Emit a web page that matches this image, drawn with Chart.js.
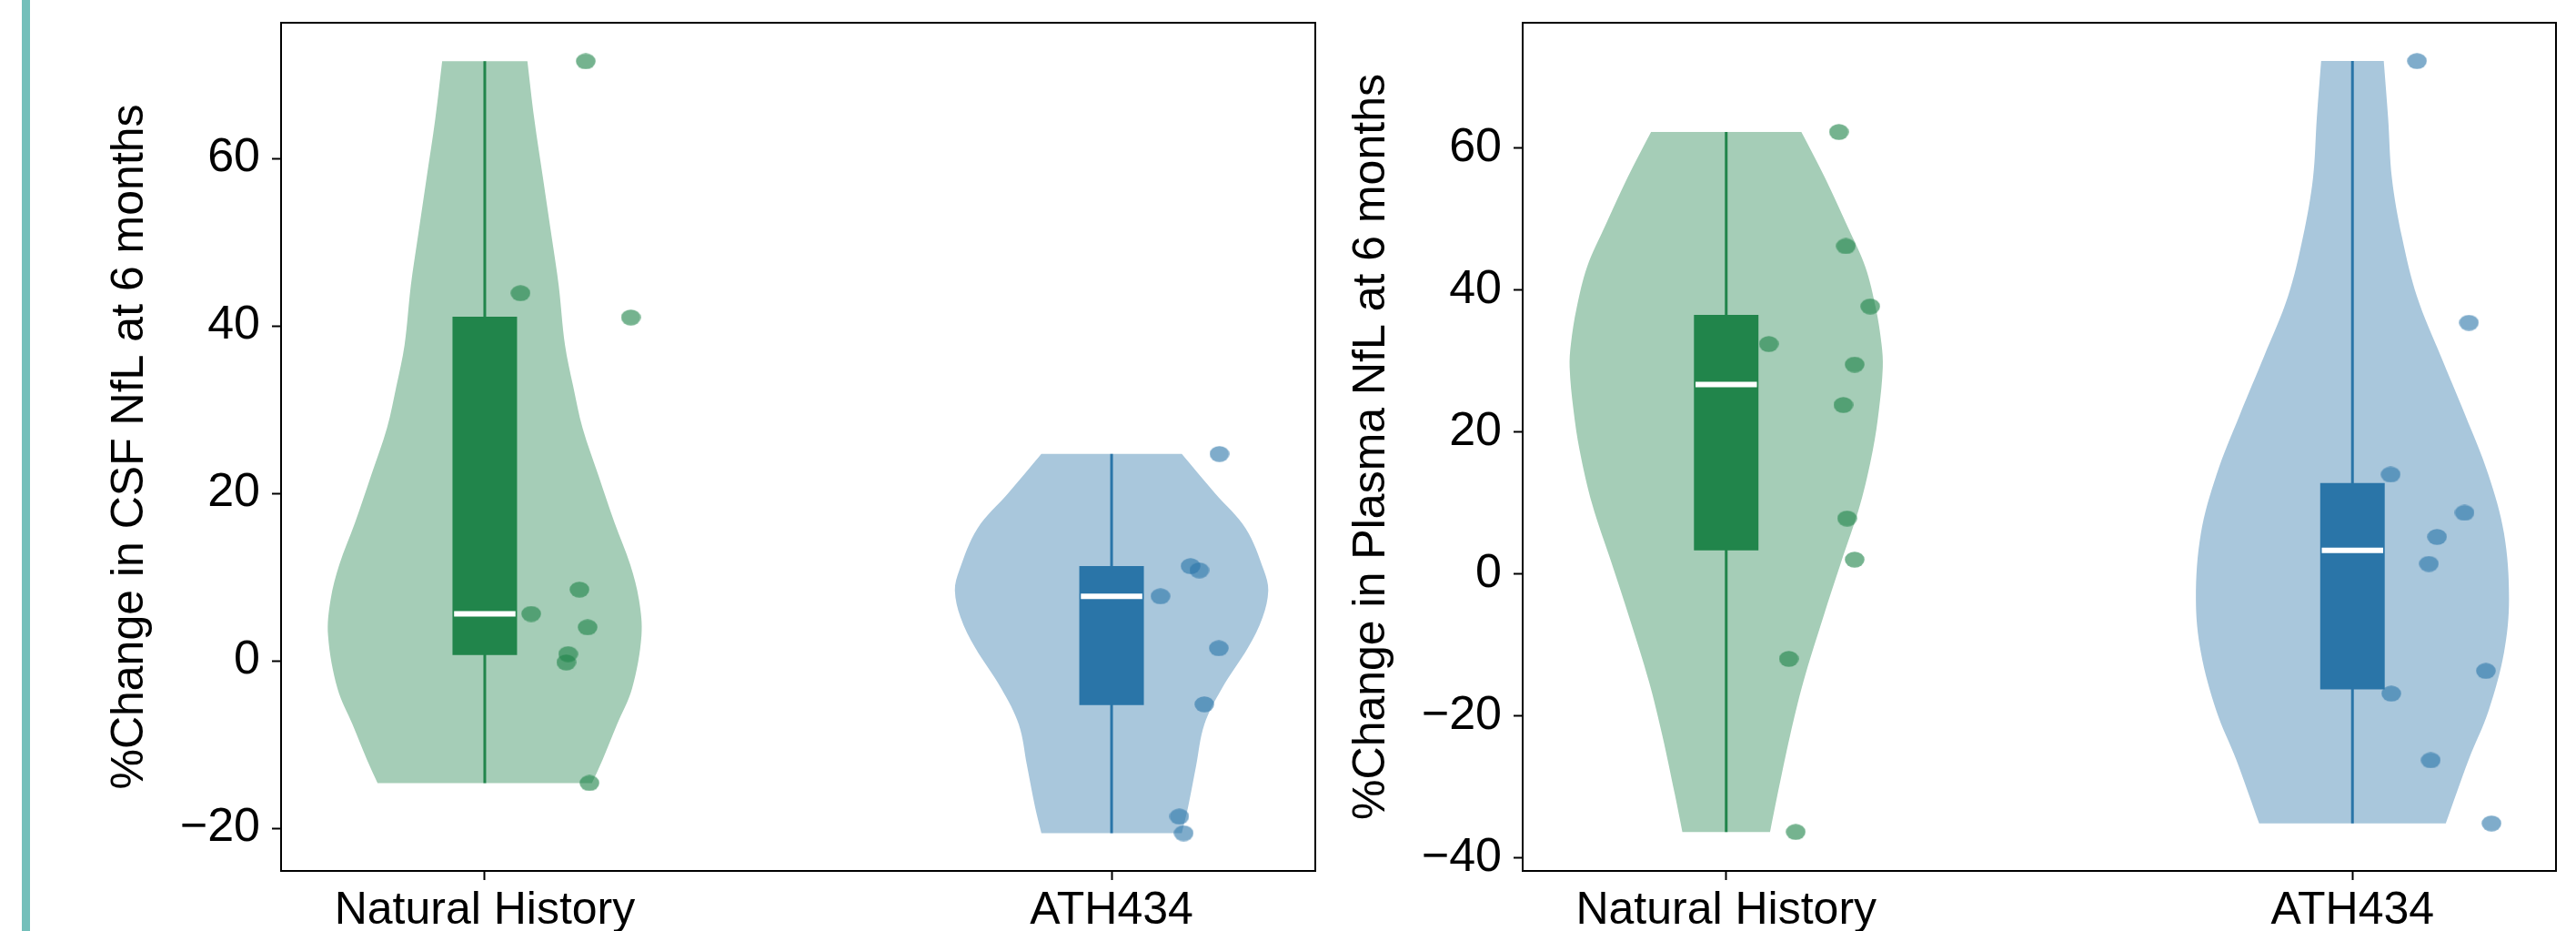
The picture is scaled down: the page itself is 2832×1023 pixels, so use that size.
<!DOCTYPE html>
<html>
<head>
<meta charset="utf-8">
<script src="https://cdn.jsdelivr.net/npm/chart.js@4.4.0/dist/chart.umd.min.js"></script>
<style>
  html, body { margin: 0; padding: 0; background: #fff; }
  body { width: 2832px; height: 1023px; position: relative; overflow: hidden; }
  #stripe { position: absolute; left: 24px; top: 0; width: 9px; height: 1023px; background: #74bfba; }
  .panel { position: absolute; top: 0; height: 1023px; }
  #leftPanel { left: 0; width: 1460px; }
  #rightPanel { left: 1460px; width: 1372px; }
</style>
</head>
<body>
<div id="stripe"></div>
<div class="panel" id="leftPanel"><canvas id="csfChart"></canvas></div>
<div class="panel" id="rightPanel"><canvas id="plasmaChart"></canvas></div>
<script>
// groups along the x axis
var groups = ['Natural History', 'ATH434'];

// CSF NfL, % change at 6 months, plus the horizontal jitter of each dot
var csfNatural = [71.6, 43.9, 41.0, 8.5, 5.6, 4.0, 0.8, -0.2, -14.6];
var csfNaturalJitter = [0.161, 0.057, 0.233, 0.151, 0.074, 0.164, 0.133, 0.130, 0.167];
var csfAth = [24.7, 11.3, 10.8, 7.7, 1.5, -5.2, -18.6, -20.6];
var csfAthJitter = [0.172, 0.126, 0.140, 0.078, 0.171, 0.148, 0.108, 0.115];

// Plasma NfL
var plasmaNatural = [62.3, 46.2, 37.7, 32.4, 29.5, 23.8, 7.8, 2.0, -12.0, -36.4];
var plasmaNaturalJitter = [0.180, 0.191, 0.230, 0.068, 0.205, 0.187, 0.193, 0.205, 0.100, 0.111];
var plasmaAth = [72.3, 35.4, 14.0, 8.6, 5.2, 1.4, -13.7, -16.9, -26.3, -35.2];
var plasmaAthJitter = [0.103, 0.186, 0.061, 0.179, 0.135, 0.122, 0.213, 0.062, 0.125, 0.222];

// boxes: [q1, median, q3] per group
var csfBox = [[0.7, 5.6, 41.1], [-5.3, 7.7, 11.3]];
var plasmaBox = [[3.3, 26.7, 36.5], [-16.3, 3.3, 12.8]];

// violin outlines: value and half width (in group units)
var csfNaturalViolinY = [-14.6, -11.8, -7.6, -3.3, 3.0, 7.3, 11.5, 16.5, 22.2, 27.8, 32.8, 37.7, 44.8, 50.5, 57.6, 64.7, 71.6];
var csfNaturalViolinW = [0.171, 0.188, 0.211, 0.235, 0.250, 0.246, 0.232, 0.207, 0.181, 0.156, 0.141, 0.128, 0.118, 0.107, 0.093, 0.079, 0.068];
var csfAthViolinY = [-20.6, -17.5, -12.5, -7.6, -3.3, 1.6, 5.2, 8.4, 10.8, 15.8, 20.0, 24.7];
var csfAthViolinW = [0.112, 0.122, 0.135, 0.148, 0.176, 0.218, 0.241, 0.250, 0.243, 0.214, 0.165, 0.112];
var plasmaNaturalViolinY = [-36.4, -31.1, -22.8, -15.3, -6.1, 1.5, 9.8, 17.4, 23.2, 29.1, 32.4, 37.4, 43.3, 49.1, 55.8, 62.3];
var plasmaNaturalViolinW = [0.070, 0.082, 0.102, 0.123, 0.155, 0.183, 0.214, 0.234, 0.244, 0.250, 0.248, 0.239, 0.222, 0.193, 0.158, 0.120];
var plasmaAthViolinY = [-35.2, -26.1, -19.4, -11.1, -3.5, 5.7, 14.0, 22.4, 30.7, 39.1, 47.5, 55.8, 64.2, 72.3];
var plasmaAthViolinW = [0.149, 0.186, 0.217, 0.242, 0.250, 0.242, 0.217, 0.180, 0.141, 0.103, 0.079, 0.063, 0.057, 0.050];

// y tick labels
var csfTicks = [-20, 0, 20, 40, 60];
var plasmaTicks = [-40, -20, 0, 20, 40, 60];

var green = { violin: 'rgb(165,205,183)', box: '#21854b', dot: 'rgba(33,133,75,0.62)' };
var blue = { violin: 'rgb(169,199,220)', box: '#2a75a8', dot: 'rgba(42,117,168,0.6)' };

Chart.defaults.font.family = '"Liberation Sans", Arial, sans-serif';
Chart.defaults.color = '#000';

// dots in the picture are slightly wider than tall
function dotImage(color) {
  var c = document.createElement('canvas');
  c.width = 22; c.height = 18;
  var g = c.getContext('2d');
  g.fillStyle = color;
  g.beginPath();
  g.ellipse(11, 9, 10.8, 8.8, 0, 0, Math.PI * 2);
  g.fill();
  return c;
}

function violinPath(pos, ys, ws) {
  var left = [], right = [];
  for (var i = 0; i < ys.length; i++) left.push({ x: pos - ws[i], y: ys[i] });
  for (var j = ys.length - 1; j >= 0; j--) right.push({ x: pos + ws[j], y: ys[j] });
  var n = ys.length - 1;
  // doubled corners keep the flat ends flat
  return [left[0]].concat(left, [left[n], right[0]], right, [right[n]]);
}

function groupDatasets(pos, values, jitter, box, vy, vw, col) {
  var bw = 0.0515, mw = 0.049;
  var lo = Math.min.apply(null, values), hi = Math.max.apply(null, values);
  return [
    { data: violinPath(pos, vy, vw), showLine: true, fill: 'shape', backgroundColor: col.violin,
      borderWidth: 0, pointRadius: 0, tension: 0.35, order: 5 },
    { data: [{ x: pos, y: lo }, { x: pos, y: hi }], showLine: true, borderColor: col.box,
      borderWidth: 3, pointRadius: 0, order: 4 },
    { data: [{ x: pos - bw, y: box[0] }, { x: pos - bw, y: box[2] }, { x: pos + bw, y: box[2] }, { x: pos + bw, y: box[0] }],
      showLine: true, fill: 'shape', backgroundColor: col.box, borderWidth: 0, pointRadius: 0, order: 3 },
    { data: [{ x: pos - mw, y: box[1] }, { x: pos + mw, y: box[1] }], showLine: true, borderColor: '#fff',
      borderWidth: 6, pointRadius: 0, order: 2 },
    { data: values.map(function (v, i) { return { x: pos + jitter[i], y: v }; }),
      pointStyle: dotImage(col.dot), pointRadius: 10, order: 1 }
  ];
}

function makeChart(id, cfg) {
  var frame = { display: true, color: '#000', width: 2 };
  var marks = { display: true, drawOnChartArea: false, tickLength: 10, tickWidth: 2, tickColor: '#000' };
  return new Chart(document.getElementById(id), {
    type: 'scatter',
    data: { datasets: cfg.datasets },
    options: {
      responsive: true,
      maintainAspectRatio: false,
      animation: false,
      layout: { padding: { left: cfg.padLeft, right: cfg.padRight, top: 25, bottom: 0 } },
      plugins: { legend: { display: false }, tooltip: { enabled: false } },
      scales: {
        x: {
          type: 'linear', min: -0.325, max: 1.325,
          grid: marks, border: frame,
          ticks: { font: { size: 50 }, padding: 4, maxRotation: 0,
            callback: function (v) { return groups[v]; } },
          afterBuildTicks: function (s) { s.ticks = [{ value: 0 }, { value: 1 }]; },
          afterFit: function (s) { s.height = 66; s.paddingLeft = 0; s.paddingRight = 0; }
        },
        y: {
          type: 'linear', min: cfg.yMin, max: cfg.yMax,
          grid: marks, border: frame,
          ticks: { font: { size: 52 }, padding: 13,
            callback: function (v) { return String(v).replace('-', '\u2212'); } },
          afterBuildTicks: function (s) { s.ticks = cfg.ticks.map(function (v) { return { value: v }; }); },
          afterFit: function (s) { s.width = 200; s.paddingTop = 0; s.paddingBottom = 0; },
          title: { display: true, text: cfg.title, font: { size: 50 }, padding: { top: 4, bottom: 4 } }
        },
        xTop: {
          type: 'linear', position: 'top', min: 0, max: 1,
          grid: { display: false }, ticks: { display: false }, border: frame,
          afterFit: function (s) { s.height = 0; s.paddingLeft = 0; s.paddingRight = 0; }
        },
        yRight: {
          type: 'linear', position: 'right', min: 0, max: 1,
          grid: { display: false }, ticks: { display: false }, border: frame,
          afterFit: function (s) { s.width = 0; s.paddingTop = 0; s.paddingBottom = 0; }
        }
      }
    }
  });
}

makeChart('csfChart', {
  title: '%Change in CSF NfL at 6 months',
  yMin: -25.1, yMax: 76.2, ticks: csfTicks,
  padLeft: 109, padRight: 14,
  datasets: groupDatasets(0, csfNatural, csfNaturalJitter, csfBox[0], csfNaturalViolinY, csfNaturalViolinW, green)
    .concat(groupDatasets(1, csfAth, csfAthJitter, csfBox[1], csfAthViolinY, csfAthViolinW, blue))
});

makeChart('plasmaChart', {
  title: '%Change in Plasma NfL at 6 months',
  yMin: -41.9, yMax: 77.7, ticks: plasmaTicks,
  padLeft: 14, padRight: 22,
  datasets: groupDatasets(0, plasmaNatural, plasmaNaturalJitter, plasmaBox[0], plasmaNaturalViolinY, plasmaNaturalViolinW, green)
    .concat(groupDatasets(1, plasmaAth, plasmaAthJitter, plasmaBox[1], plasmaAthViolinY, plasmaAthViolinW, blue))
});
</script>
</body>
</html>
